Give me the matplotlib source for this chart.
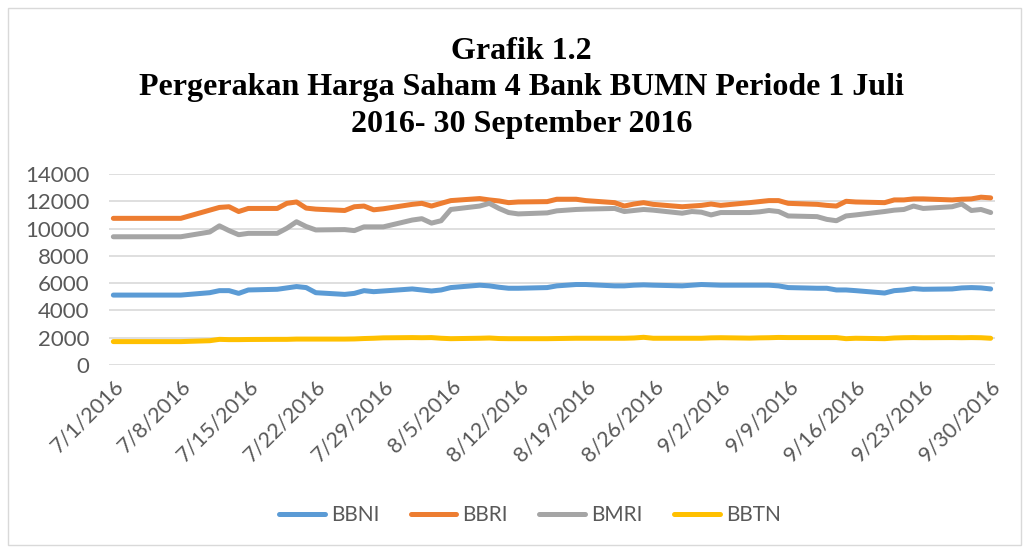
"""Grafik 1.2 - pergerakan harga saham 4 bank BUMN, Jul-Sep 2016."""
import pandas as pd
import matplotlib
matplotlib.use("Agg")
import matplotlib.pyplot as plt
import matplotlib.dates as mdates
from matplotlib.patches import Rectangle

# trading days (weekdays) 1 Jul - 30 Sep 2016
dates_jul = ["2016-07-%02d" % d for d in [1, 4, 5, 6, 7, 8, 11, 12, 13, 14, 15, 18, 19, 20, 21, 22, 25, 26, 27, 28, 29]]
dates_aug = ["2016-08-%02d" % d for d in [1, 2, 3, 4, 5, 8, 9, 10, 11, 12, 15, 16, 17, 18, 19, 22, 23, 24, 25, 26, 29, 30, 31]]
dates_sep = ["2016-09-%02d" % d for d in [1, 2, 5, 6, 7, 8, 9, 12, 13, 14, 15, 16, 19, 20, 21, 22, 23, 26, 27, 28, 29, 30]]
dates = pd.to_datetime(dates_jul + dates_aug + dates_sep)

bbni = [5125, 5125, 5125, 5125, 5125, 5125, 5300, 5450, 5450, 5250, 5500, 5550, 5650, 5750, 5675, 5300, 5175, 5250, 5450, 5375, 5425,
        5575, 5500, 5425, 5500, 5675, 5850, 5800, 5700, 5625, 5625, 5675, 5800, 5850, 5900, 5900, 5800, 5800, 5850, 5875, 5850, 5800, 5850, 5900,
        5875, 5850, 5850, 5850, 5850, 5800, 5675, 5625, 5625, 5500, 5500, 5450, 5275, 5450, 5500, 5600, 5550, 5575, 5650, 5675, 5650, 5575]
bbri = [10750, 10750, 10750, 10750, 10750, 10750, 11350, 11550, 11600, 11250, 11475, 11475, 11850, 11950, 11500, 11425, 11325, 11600, 11650, 11375, 11450,
        11775, 11850, 11650, 11850, 12050, 12200, 12100, 12025, 11900, 11950, 11975, 12150, 12150, 12150, 12050, 11900, 11650, 11800, 11900, 11775, 11600, 11650, 11700,
        11800, 11700, 11900, 11975, 12050, 12050, 11850, 11775, 11700, 11650, 12000, 11950, 11900, 12100, 12100, 12175, 12175, 12100, 12150, 12175, 12300, 12250]
bmri = [9400, 9400, 9400, 9400, 9400, 9400, 9750, 10200, 9850, 9550, 9650, 9650, 10025, 10500, 10150, 9900, 9925, 9850, 10125, 10125, 10125,
        10625, 10725, 10400, 10575, 11400, 11650, 11850, 11475, 11175, 11075, 11150, 11300, 11350, 11400, 11425, 11475, 11250, 11325, 11400, 11350, 11125, 11250, 11200,
        11000, 11175, 11175, 11225, 11325, 11250, 10925, 10875, 10675, 10575, 10925, 11000, 11250, 11350, 11400, 11650, 11475, 11600, 11800, 11325, 11400, 11175]
bbtn = [1715, 1715, 1715, 1715, 1715, 1715, 1780, 1880, 1860, 1860, 1870, 1880, 1880, 1900, 1900, 1900, 1900, 1910, 1940, 1960, 1990,
        2010, 2000, 2010, 1960, 1930, 1960, 1980, 1940, 1930, 1930, 1930, 1940, 1950, 1960, 1960, 1960, 1960, 1980, 2030, 1960, 1960, 1960, 1960,
        1990, 2000, 1970, 1990, 2000, 2020, 2010, 2010, 2010, 2010, 1930, 1960, 1930, 1980, 2000, 2010, 2000, 2010, 2000, 2010, 2000, 1960]

series = [("BBNI", bbni, "#5B9BD5"), ("BBRI", bbri, "#ED7D31"),
          ("BMRI", bmri, "#A5A5A5"), ("BBTN", bbtn, "#FFC000")]

tick_dates = pd.to_datetime(["2016-07-01", "2016-07-08", "2016-07-15", "2016-07-22", "2016-07-29",
                             "2016-08-05", "2016-08-12", "2016-08-19", "2016-08-26", "2016-09-02",
                             "2016-09-09", "2016-09-16", "2016-09-23", "2016-09-30"])
tick_labels = ["7/1/2016", "7/8/2016", "7/15/2016", "7/22/2016", "7/29/2016", "8/5/2016", "8/12/2016",
               "8/19/2016", "8/26/2016", "9/2/2016", "9/9/2016", "9/16/2016", "9/23/2016", "9/30/2016"]
y_ticks = [0, 2000, 4000, 6000, 8000, 10000, 12000, 14000]

TEXT = "#595959"
GRID = "#D9D9D9"
W, H = 1029, 547

fig = plt.figure(figsize=(W / 100, H / 100), dpi=100, facecolor="white")

# chart frame
fig.patches.append(Rectangle((8 / W, 2 / H), (W - 16) / W, (H - 10) / H, transform=fig.transFigure,
                             fill=False, edgecolor=GRID, linewidth=1))

fig.text(0.507, 1 - 88 / H, "Grafik 1.2\nPergerakan Harga Saham 4 Bank BUMN Periode 1 Juli\n2016- 30 September 2016",
         ha="center", va="center", fontsize=23, fontweight="bold", family="Liberation Serif",
         color="black", linespacing=1.33)

ax = fig.add_axes([109 / W, (H - 365) / H, (995 - 109) / W, (365 - 174) / H])
for name, vals, col in series:
    ax.plot(dates, vals, color=col, linewidth=3.6, label=name, solid_capstyle="round")

x0 = mdates.date2num(pd.Timestamp("2016-07-01")) - 0.45
x1 = mdates.date2num(pd.Timestamp("2016-09-30")) + 0.45
ax.set_xlim(x0, x1)
ax.set_ylim(0, 14000)
ax.set_yticks(y_ticks)
ax.set_yticklabels([str(v) for v in y_ticks], fontsize=16, color=TEXT, family="Lato")
ax.set_xticks(tick_dates)
ax.set_xticklabels(tick_labels, rotation=45, ha="right", rotation_mode="anchor",
                   fontsize=15.5, color=TEXT, family="Lato")
ax.tick_params(axis="y", length=0, pad=14)
ax.tick_params(axis="x", length=0, pad=8)
ax.grid(axis="y", color=GRID, linewidth=1.2)
ax.set_axisbelow(True)
for s in ax.spines.values():
    s.set_visible(False)

leg = fig.legend(loc="center", bbox_to_anchor=(0.515, 1 - 515 / H), ncol=4, frameon=False,
                 handlelength=2.2, columnspacing=1.5, handletextpad=0.3,
                 prop={"family": "Lato", "size": 15})
for t in leg.get_texts():
    t.set_color(TEXT)

fig.savefig("out.png", dpi=100, facecolor="white")
